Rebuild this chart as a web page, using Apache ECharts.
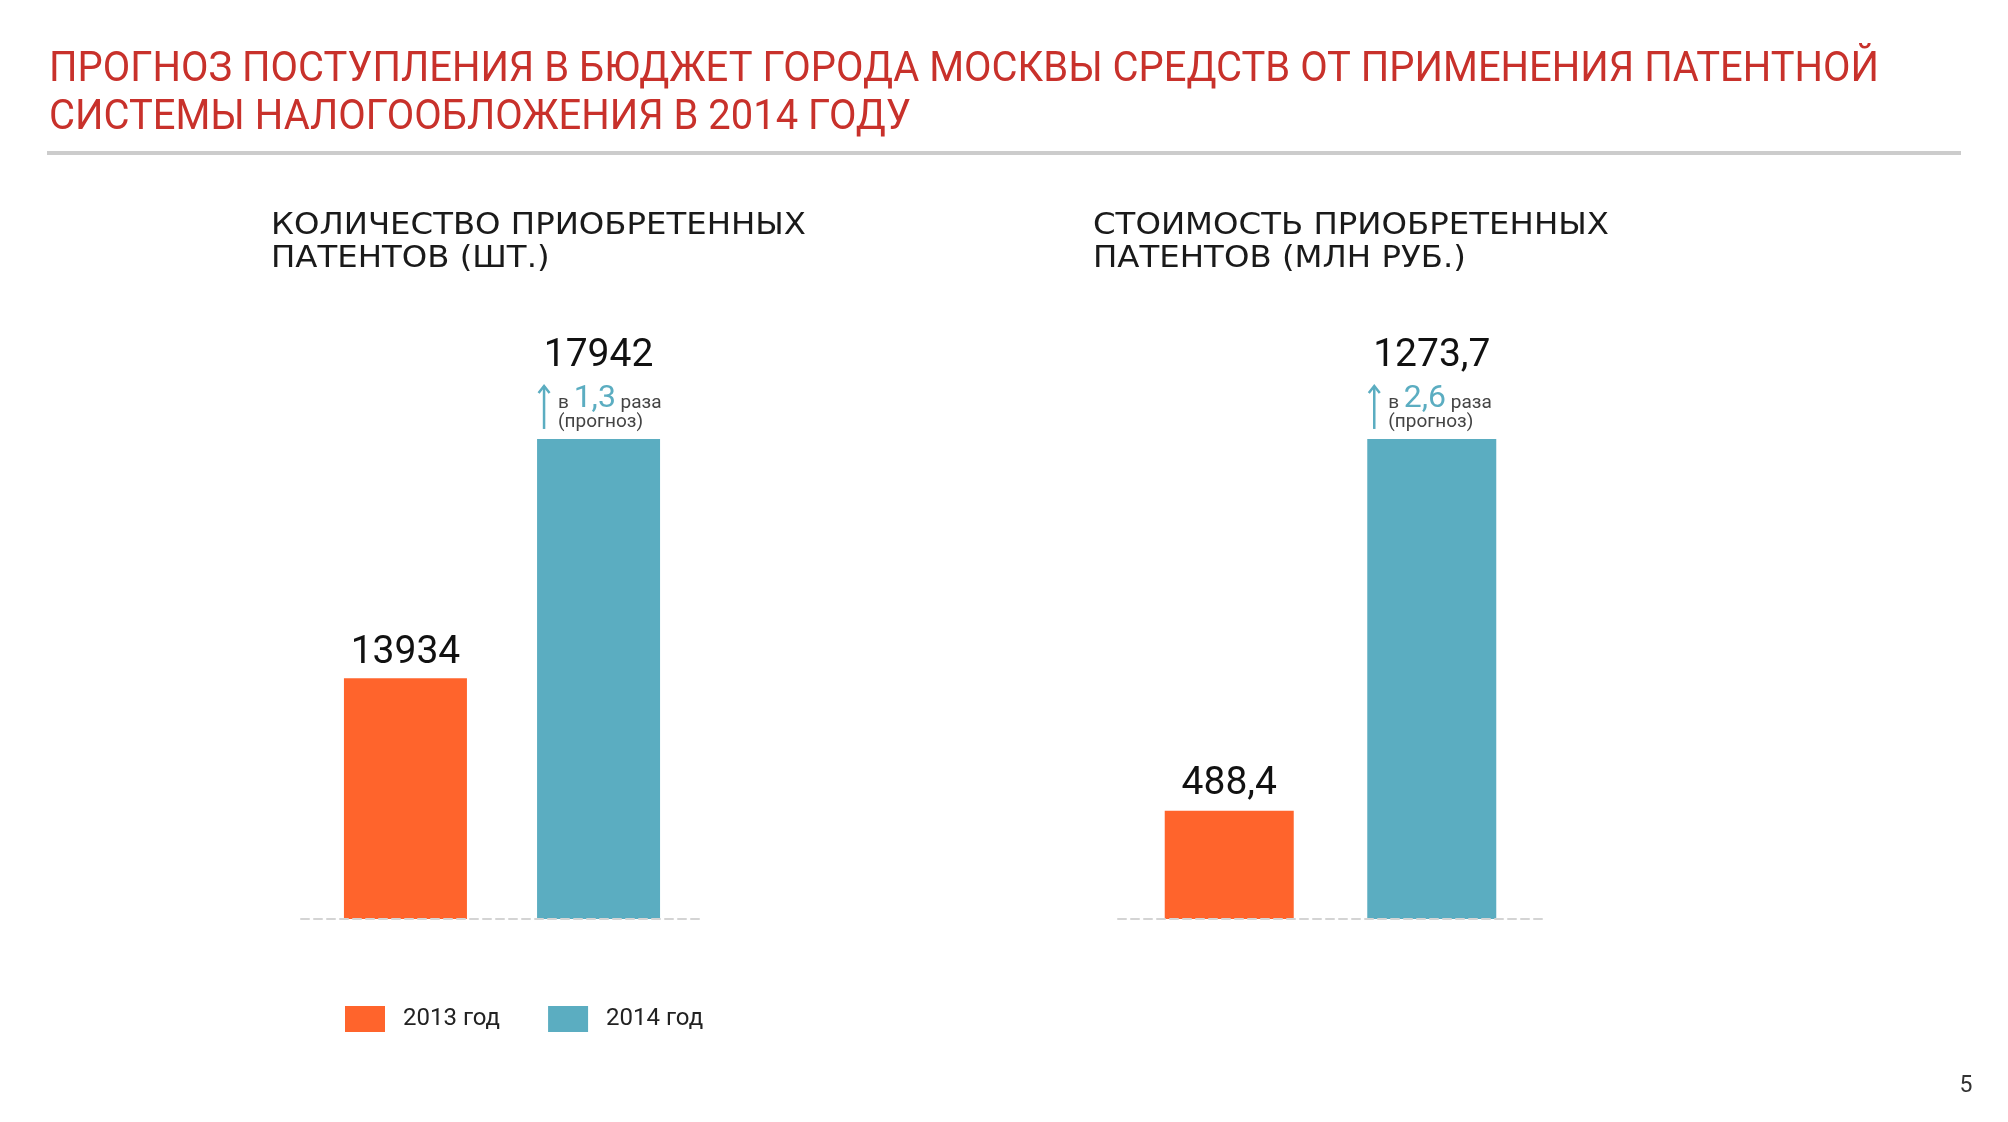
<!DOCTYPE html>
<html><head><meta charset="utf-8">
<script src="https://cdn.jsdelivr.net/npm/echarts@6/dist/echarts.min.js"></script>
<style>html,body{margin:0;padding:0;background:#fff}#c{width:2008px;height:1122px}</style>
</head><body><div id="c"></div>
<script>
// ---- data ----
const titleLines = ['ПРОГНОЗ ПОСТУПЛЕНИЯ В БЮДЖЕТ ГОРОДА МОСКВЫ СРЕДСТВ ОТ ПРИМЕНЕНИЯ ПАТЕНТНОЙ', 'СИСТЕМЫ НАЛОГООБЛОЖЕНИЯ В 2014 ГОДУ'];
const seriesNames = ['2013 год', '2014 год'];
const categories = ['Патенты'];
const countTitle = ['КОЛИЧЕСТВО ПРИОБРЕТЕННЫХ', 'ПАТЕНТОВ (ШТ.)'];
const costTitle = ['СТОИМОСТЬ ПРИОБРЕТЕННЫХ', 'ПАТЕНТОВ (МЛН РУБ.)'];
const countValues = [13934, 17942];
const costValues = [488.4, 1273.7];
const countLabels = ['13934', '17942'];
const costLabels = ['488,4', '1273,7'];
const countGrowth = '1,3';
const costGrowth = '2,6';
const growthWords = ['в ', ' раза', '(прогноз)'];
const pageNumber = '5';

// ---- styles ----
const ORANGE = '#ff642c', TEAL = '#5badc1', RED = '#c8312b';
const NUM_FONT = 'Roboto';
const chart = echarts.init(document.getElementById('c'), null, {width: 2008, height: 1122});

const mctx = document.createElement('canvas').getContext('2d');
function fit(text, font, target) { mctx.font = font; return target / mctx.measureText(text).width; }

function bar(gi, idx, values, labels, width, dist) {
  return {
    type: 'bar', name: seriesNames[idx], xAxisIndex: gi, yAxisIndex: gi,
    data: [values[idx]], barWidth: width, barGap: '57%',
    itemStyle: {color: idx === 0 ? ORANGE : TEAL},
    label: {show: true, position: 'top', distance: dist, formatter: labels[idx],
      fontSize: 39, fontFamily: NUM_FONT, color: '#111'},
    silent: true
  };
}
const axisLine = {lineStyle: {color: '#d4d4d4', width: 2, type: [8, 5]}};

const option = {
  animation: false,
  grid: [
    {left: 301, width: 402, top: 435.5, height: 483.5, containLabel: false},
    {left: 1118, width: 425, top: 426.5, height: 492.5, containLabel: false}
  ],
  xAxis: [0, 1].map(g => ({gridIndex: g, type: 'category', data: categories, z: 5,
    axisLine: axisLine, axisTick: {show: false}, axisLabel: {show: false}})),
  yAxis: [
    {gridIndex: 0, type: 'value', min: 9900, max: 18000, show: false},
    {gridIndex: 1, type: 'value', min: 260, max: 1300, show: false}
  ],
  legend: {data: seriesNames, left: 345, top: 1006, padding: 0, itemWidth: 40, itemHeight: 26, itemGap: 48,
    icon: 'rect', selectedMode: false,
    textStyle: {fontSize: 24, fontFamily: NUM_FONT, color: '#222', padding: [0, 0, 0, 13]}},
  series: [
    bar(0, 0, countValues, countLabels, 123, 5),
    bar(0, 1, countValues, countLabels, 123, 63),
    bar(1, 0, costValues, costLabels, 129, 7),
    bar(1, 1, costValues, costLabels, 129, 63)
  ]
};
chart.setOption(option);

// ---- decorations ----
const gfx = [];
const tFont = '42px Roboto';
const tScale = fit(titleLines[0], tFont, 1830);
titleLines.forEach((t, i) => gfx.push({type: 'text', x: 49, y: 70 + i * 48, scaleX: tScale,
  style: {text: t, font: tFont, fill: RED, align: 'left', verticalAlign: 'middle'}}));
gfx.push({type: 'rect', shape: {x: 47, y: 151, width: 1914, height: 4}, style: {fill: '#cccccc'}});

const sFont = '30px "DejaVu Sans"';
[[countTitle, 271, 535], [costTitle, 1093, 516]].forEach(([lines, x, w]) => {
  const sc = fit(lines[0], sFont, w);
  lines.forEach((t, i) => gfx.push({type: 'text', x: x, y: 226 + i * 33, scaleX: sc,
    style: {text: t, font: sFont, fill: '#1a1a1a', align: 'left', verticalAlign: 'middle'}}));
});

function layoutOf(si) {
  const l = chart.getModel().getSeriesByIndex(si).getData().getItemLayout(0);
  return {left: Math.min(l.x, l.x + l.width), top: Math.min(l.y, l.y + l.height)};
}
[[1, countGrowth], [3, costGrowth]].forEach(([si, g]) => {
  const b = layoutOf(si);
  const ax = b.left + 7, tip = b.top - 54;
  gfx.push({type: 'line', shape: {x1: ax, y1: tip + 1, x2: ax, y2: b.top - 10}, style: {stroke: TEAL, lineWidth: 2.5}});
  gfx.push({type: 'polyline', shape: {points: [[ax - 5.5, tip + 8], [ax, tip + 1], [ax + 5.5, tip + 8]]}, style: {stroke: TEAL, lineWidth: 2.5, fill: null}});
  gfx.push({type: 'text', x: b.left + 21, y: b.top - 24, style: {
    text: '{s|' + growthWords[0] + '}{b|' + g + '}{s|' + growthWords[1] + '}',
    align: 'left', verticalAlign: 'bottom',
    rich: {
      s: {fontSize: 19, fontFamily: NUM_FONT, fill: '#444', verticalAlign: 'bottom', padding: [0, 0, 2, 0]},
      b: {fontSize: 32, fontFamily: NUM_FONT, fill: TEAL, verticalAlign: 'bottom'}
    }}});
  gfx.push({type: 'text', x: b.left + 21, y: b.top - 17, style: {text: growthWords[2],
    font: '19px ' + NUM_FONT, fill: '#444', align: 'left', verticalAlign: 'middle'}});
});
gfx.push({type: 'text', x: 1966, y: 1086, style: {text: pageNumber, font: '23px ' + NUM_FONT,
  fill: '#333', align: 'center', verticalAlign: 'middle'}});

chart.setOption({graphic: {elements: gfx}});
</script></body></html>
